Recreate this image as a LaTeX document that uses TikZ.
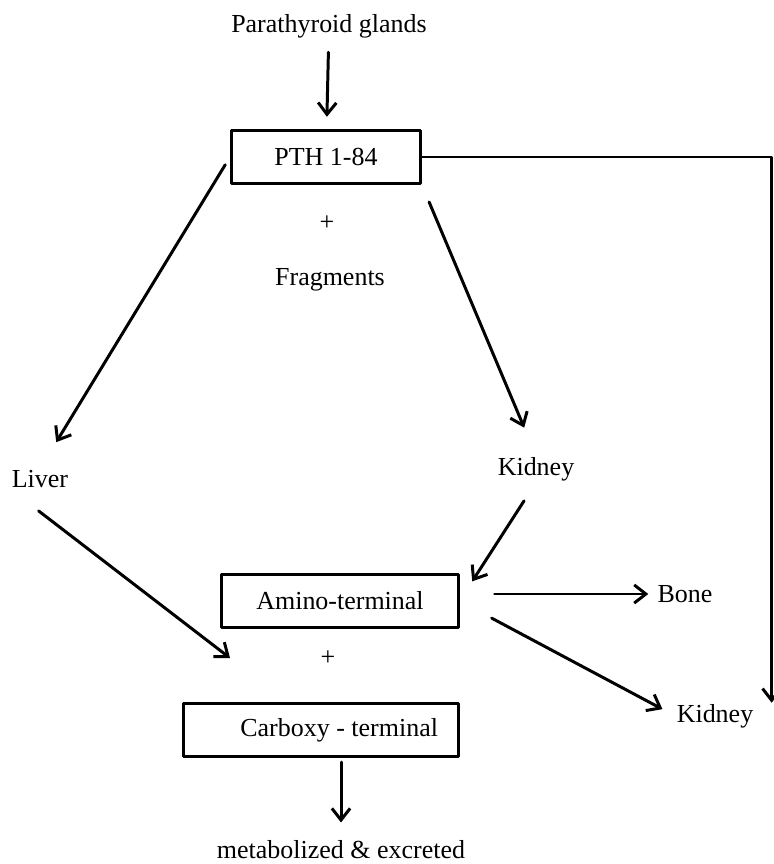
\documentclass[tikz,border=0pt]{standalone}
\usepackage{fontspec}
\setmainfont{Liberation Serif}
\usetikzlibrary{arrows.meta}

\begin{document}
\begin{tikzpicture}[x=0.385pt, y=-0.385pt, font=\fontsize{10}{12}\selectfont, line width=1.15pt, line join=round, line cap=round, >={Straight Barb[length=4.5pt,width=7pt]},
	lbl/.style={inner sep=0pt},
	box/.style={draw, inner sep=0pt, minimum height=20.6pt}]
	\useasboundingbox (0,0) rectangle (773,864);
	\path
	(329,26) node[lbl] (glands) {Parathyroid glands}
	(326,157) node[box, minimum width=72.8pt] (pth) {PTH 1-84}
	(327,223) node[lbl] (plusA) {+}
	(330,280) node[lbl] (frag) {Fragments}
	(40,479) node[lbl] (liver) {Liver}
	(536,469) node[lbl] (kidneyA) {Kidney}
	(340,601) node[box, minimum width=90.9pt] (amino) {Amino-terminal}
	(685,594) node[lbl] (bone) {Bone}
	(328,658) node[lbl] (plusB) {+}
	(715,716) node[lbl] (kidneyB) {Kidney}
	(321,730) node[box, minimum width=105.9pt] (carboxy) {\hspace*{14pt}Carboxy - terminal}
	(341,850) node[lbl] (metab) {metabolized \& excreted}
	(230,658) coordinate (toends);
	\draw[->, shorten <=5pt, shorten >=4.6pt] (glands) -- (pth);
	\draw[->, shorten <=3.5pt, shorten >=12pt] (pth.west) -- (liver.north);
	\draw[->, shorten <=7pt, shorten >=11.7pt] (pth.south east) -- (kidneyA.north);
	\draw[->, shorten <=8.5pt, shorten >=9pt] (kidneyA.south) -- (amino.east);
	\draw[->, shorten <=13.5pt, shorten >=3pt] (amino.east |- bone.west) -- (bone.west);
	\draw[->, shorten <=14pt, shorten >=5.6pt] (amino.east) -- (kidneyB.west);
	\draw[->] (pth.east) -| ([xshift=6.5pt]kidneyB.north east);
	\draw[->, shorten <=13.7pt] (liver.south west) -- (toends);
	\draw[->, shorten <=1.5pt, shorten >=6.5pt] (carboxy.south -| metab.north) -- (metab.north);
\end{tikzpicture}
\end{document}
